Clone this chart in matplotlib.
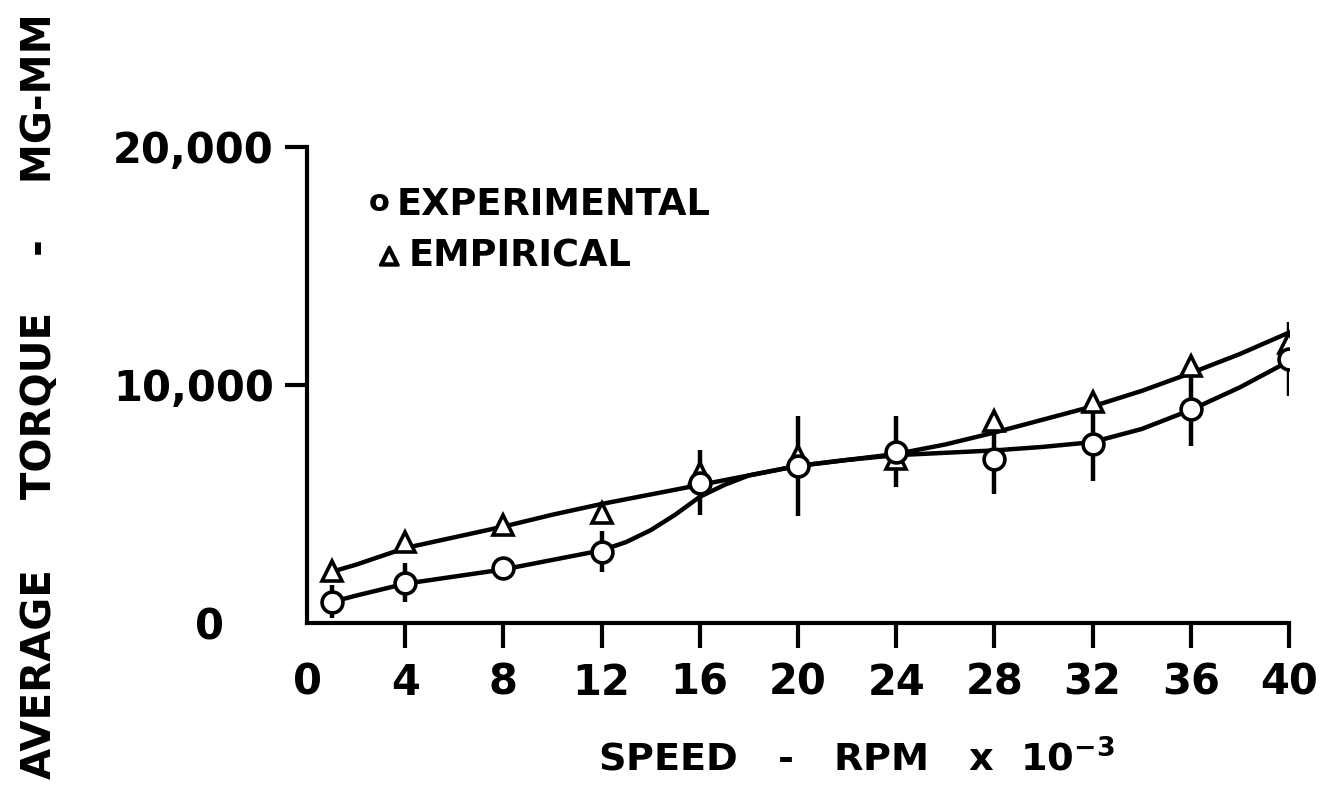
import numpy as np
from matplotlib import pyplot as plt
import matplotlib.transforms as mtransforms
import matplotlib.patheffects as pe

# speed (rpm x 10^-3) of the measured / computed points
speed = [1, 4, 8, 12, 16, 20, 24, 28, 32, 36, 40]
# experimental torque (mg-mm) and its spread
torque_exp = [900, 1700, 2300, 3000, 5900, 6600, 7200, 6900, 7500, 9000, 11100]
torque_err = [700, 800, 0, 850, 1350, 2100, 1500, 1500, 1550, 1550, 1550]
# empirical torque (mg-mm)
torque_emp = [2200, 3400, 4100, 4600, 6300, 7000, 6900, 8500, 9300, 10800, 11750]

# hand drawn curves
curve_x_emp = [1, 2, 4, 6, 8, 10, 12, 14, 16, 18, 20, 22, 24, 26, 28, 30, 32, 34, 36, 38, 40]
curve_y_emp = [2150, 2450, 3150, 3600, 4050, 4550, 5000, 5400, 5800, 6200, 6600, 6850, 7100,
               7500, 8000, 8550, 9100, 9750, 10500, 11300, 12200]
curve_x_exp = [1, 2, 4, 6, 8, 10, 12, 13, 14, 15, 16, 17, 18, 20, 22, 24, 26, 28, 30, 32, 34, 36, 38, 40]
curve_y_exp = [880, 1150, 1650, 1950, 2250, 2650, 3050, 3400, 3900, 4550, 5300, 5800, 6200, 6600,
               6850, 7050, 7150, 7250, 7400, 7600, 8150, 8950, 9900, 11000]

x_ticks = [0, 4, 8, 12, 16, 20, 24, 28, 32, 36, 40]
y_ticks = [0, 10000, 20000]
y_tick_labels = ['0', '10,000', '20,000']

plt.rcParams['font.family'] = ['DejaVu Sans']
plt.rcParams['font.weight'] = 'bold'
fig = plt.figure(figsize=(13.32, 7.93), dpi=100)
ax = fig.add_axes([0.2305, 0.2144, 0.7372, 0.6003])

lw = 3.2
ax.plot(curve_x_emp, curve_y_emp, color='black', lw=lw, solid_capstyle='round',
        solid_joinstyle='round', zorder=2)
ax.plot(curve_x_exp, curve_y_exp, color='black', lw=lw, solid_capstyle='round',
        solid_joinstyle='round', zorder=2)
ax.errorbar(speed, torque_exp, yerr=torque_err, fmt='none', ecolor='black', elinewidth=lw,
            capsize=0, zorder=3)
ax.plot(speed, torque_emp, linestyle='none', marker='^', markersize=15, markerfacecolor='white',
        markeredgecolor='black', markeredgewidth=2.6, zorder=4)
ax.plot(speed, torque_exp, linestyle='none', marker='o', markersize=15, markerfacecolor='white',
        markeredgecolor='black', markeredgewidth=2.6, zorder=5)

ax.set_xlim(0, 40)
ax.set_ylim(0, 20000)
for s in ['top', 'right']:
    ax.spines[s].set_visible(False)
for s in ['left', 'bottom']:
    ax.spines[s].set_linewidth(3.0)
ax.set_xticks(x_ticks)
ax.set_xticklabels([str(v) for v in x_ticks], fontsize=30, fontweight='bold')
ax.set_yticks(y_ticks)
ax.set_yticklabels(y_tick_labels, fontsize=30, fontweight='bold')
ax.tick_params(axis='x', direction='out', length=18, width=3.0, pad=10)
ax.tick_params(axis='y', direction='out', length=16, width=3.0, pad=8)
# no tick marks at the origin, and the y "0" sits further left
ax.xaxis.get_major_ticks()[0].tick1line.set_visible(False)
ax.yaxis.get_major_ticks()[0].tick1line.set_visible(False)
zero_lab = ax.get_yticklabels()[0]
zero_lab.set_transform(zero_lab.get_transform()
                       + mtransforms.ScaledTranslation(-36 / 72, 0, fig.dpi_scale_trans))

# legend written as text, like the original
ax.text(2.95, 17650, 'o', fontsize=22, fontweight='bold', va='center', ha='center')
ax.text(3.65, 17600, 'EXPERIMENTAL', fontsize=26.5, fontweight='bold', va='center', ha='left')
ax.text(3.35, 15450, '\u25b3', fontsize=17, fontweight='bold', va='center', ha='center',
        path_effects=[pe.withStroke(linewidth=2.2, foreground='black')])
ax.text(4.15, 15400, 'EMPIRICAL', fontsize=26.5, fontweight='bold', va='center', ha='left')

fig.text(0.449, 0.028, r'SPEED   -   RPM   x  10$^{\mathbf{-3}}$', fontsize=27.5,
         fontweight='bold', ha='left', va='baseline')
fig.text(0.030, 0.5, 'AVERAGE     TORQUE    -    MG-MM', fontsize=29, fontweight='bold',
         rotation=90, ha='center', va='center')

fig.savefig('out.png', dpi=100)
